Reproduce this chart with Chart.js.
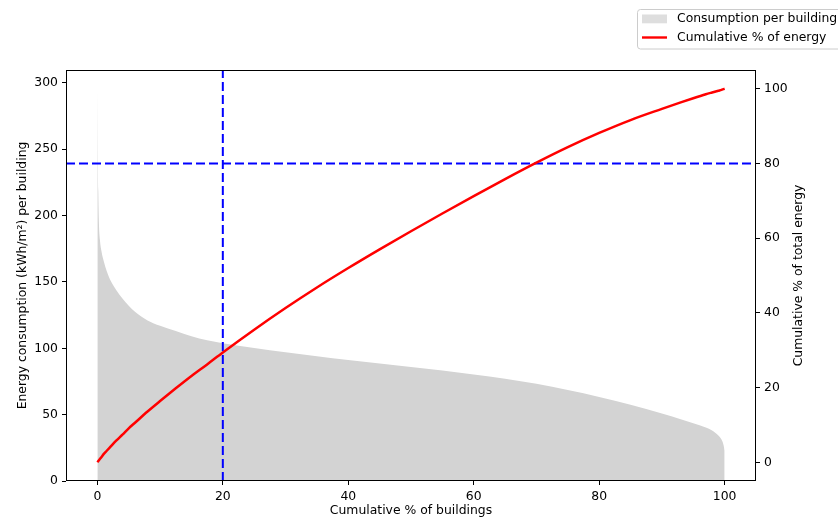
<!DOCTYPE html>
<html>
<head>
<meta charset="utf-8">
<script src="https://cdn.jsdelivr.net/npm/chart.js@4.4.1/dist/chart.umd.min.js"></script>
<style>
  html, body { margin: 0; padding: 0; background: #ffffff; }
  #wrap { width: 838px; height: 519px; position: relative; }
</style>
</head>
<body>
<div id="wrap"><canvas id="c" width="838" height="519"></canvas></div>
<script>
// Buildings sorted from highest to lowest consumption (x = cumulative % of buildings)
const buildingPct = [0, 0.15, 0.25, 0.4, 0.7, 1, 1.5, 2, 3, 4, 5, 6, 8, 10, 12.5, 15, 17.5, 20,
  25, 30, 35, 40, 45, 50, 55, 60, 65, 70, 75, 80, 85, 90, 93, 95, 97, 98, 99, 99.5, 99.8, 100];
// Energy consumption per building, kWh/m²
const consumption = [295, 218, 194, 182, 172, 166, 158, 152, 144, 137.5, 132, 127.5, 121, 117, 113, 109, 106, 103.8,
  100.3, 97, 94, 91.2, 88.6, 86, 83.3, 80.3, 77, 73.2, 68.6, 63.4, 57.4, 50.8, 46.6, 43.6, 40.3, 38, 34.3, 31.2, 27.5, 23];
// Cumulative share of total energy, %
const energyPct = [0, 0.35, 0.55, 0.9, 1.5, 2.2, 3.1, 4.0, 5.8, 7.4, 9.1, 10.6, 13.6, 16.4, 19.8, 23.1, 26.2, 29.4,
  35.5, 41.3, 46.8, 52.0, 57.0, 61.85, 66.6, 71.25, 75.8, 80.2, 84.35, 88.15, 91.6, 94.6, 96.35, 97.45, 98.5, 98.98, 99.45, 99.68, 99.88, 100];

const xTickValues = [0, 20, 40, 60, 80, 100];
const leftTickValues = [0, 50, 100, 150, 200, 250, 300];
const rightTickValues = [0, 20, 40, 60, 80, 100];

// Reference markers: 20 % of buildings, 80 % of energy
const markBuildingPct = 20;
const markEnergyPct = 80;

const legendLabels = ['Consumption per building', 'Cumulative % of energy'];
const xTitle = 'Cumulative % of buildings';
const leftTitle = 'Energy consumption (kWh/m²) per building';
const rightTitle = 'Cumulative % of total energy';

const FAMILY = '"DejaVu Sans", "Liberation Sans", sans-serif';
const FONT_SIZE = 12.4;
const GRAY = '#d3d3d3';
const RED = '#ff0000';
const BLUE = '#0000ff';

const points = (xs, ys) => xs.map((x, i) => ({ x: x, y: ys[i] }));

function axisCommon(tickValues) {
  return {
    afterBuildTicks: (s) => { s.ticks = tickValues.map(v => ({ value: v })); },
    ticks: { font: { family: FAMILY, size: FONT_SIZE }, color: '#000', padding: 4, autoSkip: false, maxRotation: 0 },
    grid: { drawOnChartArea: false, drawTicks: true, tickLength: 4, color: '#000', lineWidth: 1 },
    border: { display: false }
  };
}

// Frame, right-hand title and legend box
const decorations = {
  id: 'decorations',
  afterDatasetsDraw(chart) {
    const { ctx, chartArea: a } = chart;
    ctx.save();
    ctx.strokeStyle = '#000';
    ctx.lineWidth = 1;
    ctx.strokeRect(Math.round(a.left) + 0.5, Math.round(a.top) + 0.5,
      Math.round(a.right - a.left) - 1, Math.round(a.bottom - a.top) - 1);
    ctx.restore();
  },
  afterDraw(chart) {
    const { ctx, chartArea: a } = chart;
    const y1 = chart.scales.y1;
    ctx.save();
    // right axis title, reading bottom to top
    ctx.translate(y1.right - 39, (a.top + a.bottom) / 2);
    ctx.rotate(-Math.PI / 2);
    ctx.font = FONT_SIZE + 'px ' + FAMILY;
    ctx.fillStyle = '#000';
    ctx.textAlign = 'center';
    ctx.textBaseline = 'middle';
    ctx.fillText(rightTitle, 0, 0);
    ctx.restore();

    // legend
    ctx.save();
    const bx = 637.5, by = 9.5, bw = 210, bh = 39.5, r = 3;
    ctx.beginPath();
    ctx.moveTo(bx + r, by);
    ctx.lineTo(bx + bw - r, by);
    ctx.arcTo(bx + bw, by, bx + bw, by + r, r);
    ctx.lineTo(bx + bw, by + bh - r);
    ctx.arcTo(bx + bw, by + bh, bx + bw - r, by + bh, r);
    ctx.lineTo(bx + r, by + bh);
    ctx.arcTo(bx, by + bh, bx, by + bh - r, r);
    ctx.lineTo(bx, by + r);
    ctx.arcTo(bx, by, bx + r, by, r);
    ctx.closePath();
    ctx.fillStyle = 'rgba(255,255,255,0.8)';
    ctx.fill();
    ctx.strokeStyle = '#cccccc';
    ctx.lineWidth = 1;
    ctx.stroke();

    ctx.fillStyle = '#dedede';
    ctx.fillRect(642, 14.5, 25, 8.8);
    ctx.strokeStyle = RED;
    ctx.lineWidth = 2.4;
    ctx.beginPath();
    ctx.moveTo(642, 37.5);
    ctx.lineTo(667, 37.5);
    ctx.stroke();

    ctx.font = FONT_SIZE + 'px ' + FAMILY;
    ctx.fillStyle = '#000';
    ctx.textAlign = 'left';
    ctx.textBaseline = 'middle';
    ctx.fillText(legendLabels[0], 677, 19);
    ctx.fillText(legendLabels[1], 677, 37.5);
    ctx.restore();
  }
};

new Chart(document.getElementById('c'), {
  type: 'line',
  data: {
    datasets: [
      {
        label: legendLabels[1],
        data: points(buildingPct, energyPct),
        yAxisID: 'y1',
        borderColor: RED,
        borderWidth: 2.5,
        pointRadius: 0,
        fill: false,
        cubicInterpolationMode: 'monotone',
        borderCapStyle: 'butt',
        order: 0
      },
      {
        label: 'buildings marker',
        data: [{ x: markBuildingPct, y: -5 }, { x: markBuildingPct, y: 105 }],
        yAxisID: 'y1',
        borderColor: BLUE,
        borderWidth: 2,
        borderDash: [9, 4],
        pointRadius: 0,
        fill: false,
        order: 1
      },
      {
        label: 'energy marker',
        data: [{ x: -5, y: markEnergyPct }, { x: 105, y: markEnergyPct }],
        yAxisID: 'y1',
        borderColor: BLUE,
        borderWidth: 2,
        borderDash: [9, 4],
        pointRadius: 0,
        fill: false,
        order: 2
      },
      {
        label: legendLabels[0],
        data: points(buildingPct, consumption),
        yAxisID: 'y',
        borderWidth: 0,
        borderColor: 'rgba(0,0,0,0)',
        backgroundColor: GRAY,
        pointRadius: 0,
        fill: 'origin',
        cubicInterpolationMode: 'monotone',
        order: 3
      }
    ]
  },
  options: {
    responsive: false,
    animation: false,
    devicePixelRatio: 1,
    events: [],
    layout: { padding: { top: 70, left: 0, right: 0, bottom: 0 } },
    plugins: { legend: { display: false }, tooltip: { enabled: false } },
    scales: {
      x: Object.assign(axisCommon(xTickValues), {
        type: 'linear', position: 'bottom', min: -5, max: 105,
        afterFit: (s) => { s.height = 38; },
        title: { display: true, text: xTitle, color: '#000',
          font: { family: FAMILY, size: FONT_SIZE }, padding: { top: 0, bottom: 1 } }
      }),
      y: Object.assign(axisCommon(leftTickValues), {
        type: 'linear', position: 'left', min: 0, max: 309.75,
        afterFit: (s) => { s.width = 66; },
        title: { display: true, text: leftTitle, color: '#000',
          font: { family: FAMILY, size: FONT_SIZE }, padding: { top: 15, bottom: 0 } }
      }),
      y1: Object.assign(axisCommon(rightTickValues), {
        type: 'linear', position: 'right', min: -5, max: 105,
        afterFit: (s) => { s.width = 82; }
      })
    }
  },
  plugins: [decorations]
});
</script>
</body>
</html>
